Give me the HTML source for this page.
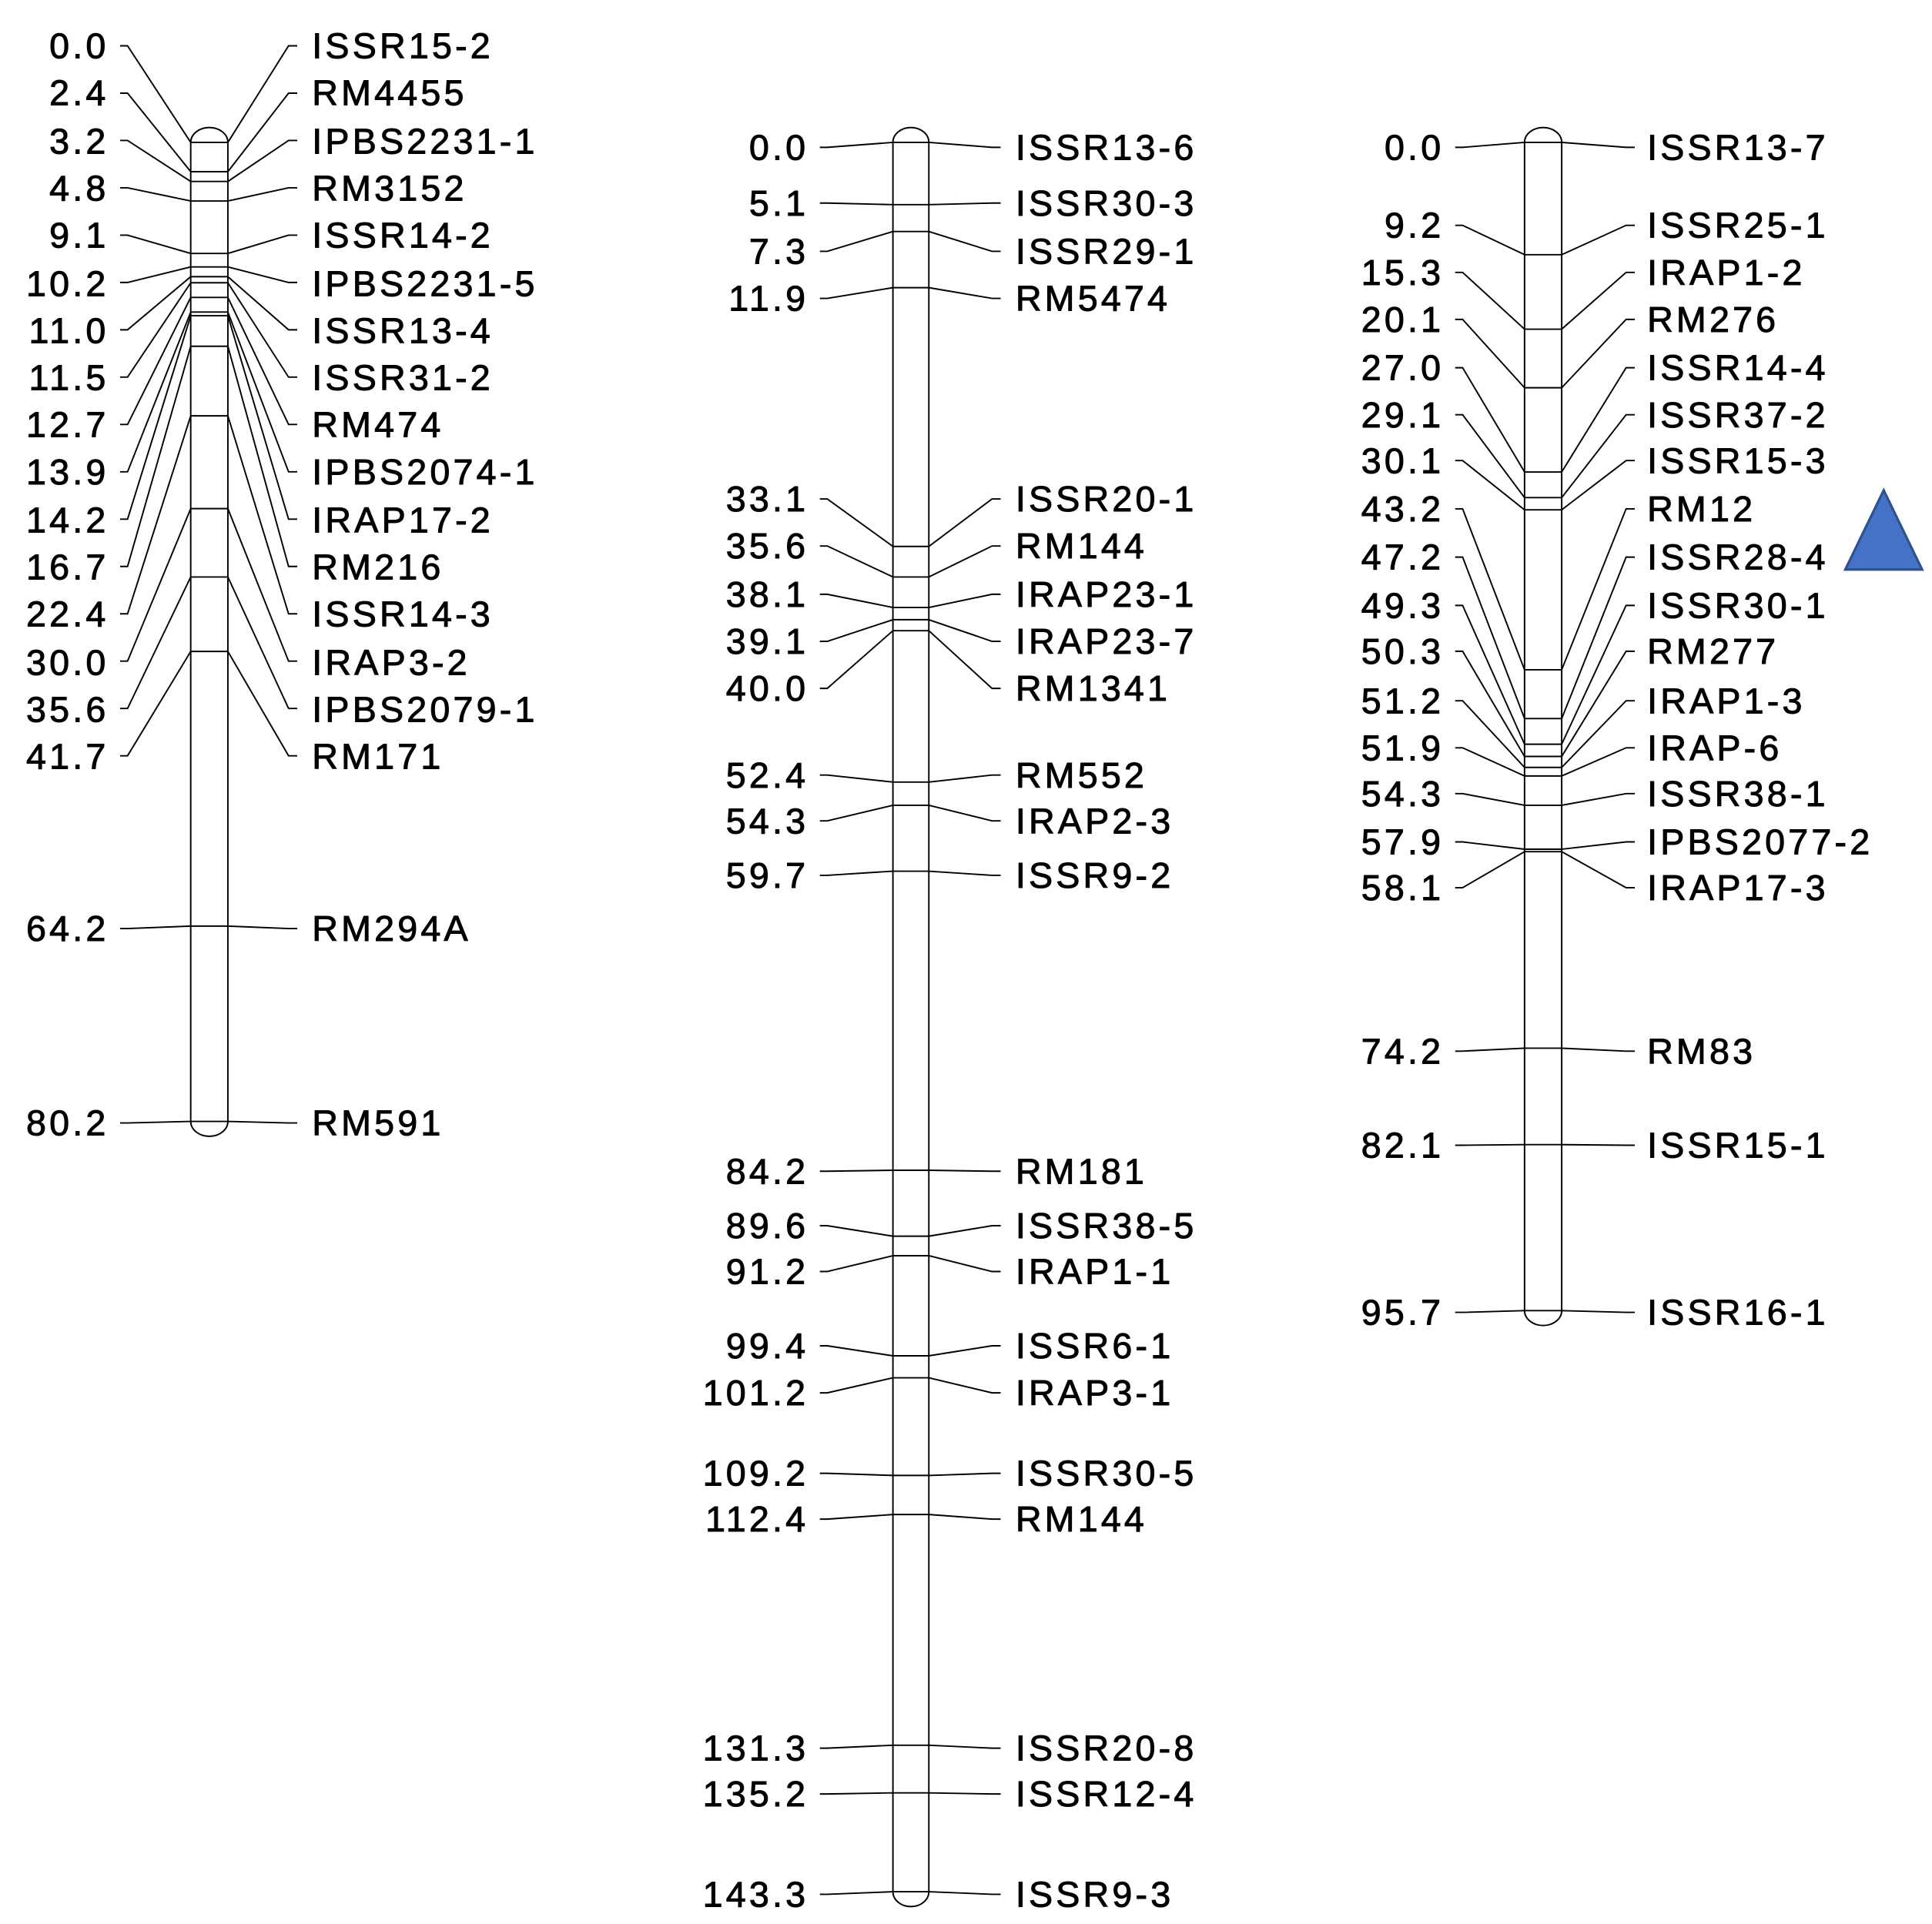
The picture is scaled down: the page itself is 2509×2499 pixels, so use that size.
<!DOCTYPE html>
<html><head><meta charset="utf-8"><style>
html,body{margin:0;padding:0;background:#fff;}
svg{display:block;}
text{font-family:"Liberation Sans",Arial,sans-serif;font-size:29px;fill:#000;letter-spacing:2.6px;stroke:#000;stroke-width:0.6px;}
.n{text-anchor:end;}
</style></head><body>
<svg id="s" width="2509" height="2499" viewBox="0 0 1560 1554" preserveAspectRatio="none" xmlns="http://www.w3.org/2000/svg">
<rect width="1560" height="1554" fill="#fff"/>
<g id="lines" stroke="#000" stroke-width="1.2" fill="none"></g>
<polygon points="1490,460 1552,460 1521,396" fill="#4472C4" stroke="#2F528F" stroke-width="2"/>
<g id="t1">
<text class="n" x="88" y="47">0.0</text><text class="n" x="88" y="85">2.4</text><text class="n" x="88" y="124">3.2</text><text class="n" x="88" y="162">4.8</text><text class="n" x="88" y="200">9.1</text><text class="n" x="88" y="239">10.2</text><text class="n" x="88" y="277">11.0</text><text class="n" x="88" y="315">11.5</text><text class="n" x="88" y="353">12.7</text><text class="n" x="88" y="391">13.9</text><text class="n" x="88" y="430">14.2</text><text class="n" x="88" y="468">16.7</text><text class="n" x="88" y="506">22.4</text><text class="n" x="88" y="545">30.0</text><text class="n" x="88" y="583">35.6</text><text class="n" x="88" y="621">41.7</text><text class="n" x="88" y="760">64.2</text><text class="n" x="88" y="917">80.2</text>
<text x="252" y="47">ISSR15-2</text><text x="252" y="85">RM4455</text><text x="252" y="124">IPBS2231-1</text><text x="252" y="162">RM3152</text><text x="252" y="200">ISSR14-2</text><text x="252" y="239">IPBS2231-5</text><text x="252" y="277">ISSR13-4</text><text x="252" y="315">ISSR31-2</text><text x="252" y="353">RM474</text><text x="252" y="391">IPBS2074-1</text><text x="252" y="430">IRAP17-2</text><text x="252" y="468">RM216</text><text x="252" y="506">ISSR14-3</text><text x="252" y="545">IRAP3-2</text><text x="252" y="583">IPBS2079-1</text><text x="252" y="621">RM171</text><text x="252" y="760">RM294A</text><text x="252" y="917">RM591</text>
</g>
<g id="t2">
<text class="n" x="653" y="129">0.0</text><text class="n" x="653" y="174">5.1</text><text class="n" x="653" y="213">7.3</text><text class="n" x="653" y="251">11.9</text><text class="n" x="653" y="413">33.1</text><text class="n" x="653" y="451">35.6</text><text class="n" x="653" y="490">38.1</text><text class="n" x="653" y="528">39.1</text><text class="n" x="653" y="566">40.0</text><text class="n" x="653" y="636">52.4</text><text class="n" x="653" y="673">54.3</text><text class="n" x="653" y="717">59.7</text><text class="n" x="653" y="956">84.2</text><text class="n" x="653" y="1000">89.6</text><text class="n" x="653" y="1037">91.2</text><text class="n" x="653" y="1097">99.4</text><text class="n" x="653" y="1135">101.2</text><text class="n" x="653" y="1200">109.2</text><text class="n" x="653" y="1237">112.4</text><text class="n" x="653" y="1422">131.3</text><text class="n" x="653" y="1459">135.2</text><text class="n" x="653" y="1540">143.3</text>
<text x="820" y="129">ISSR13-6</text><text x="820" y="174">ISSR30-3</text><text x="820" y="213">ISSR29-1</text><text x="820" y="251">RM5474</text><text x="820" y="413">ISSR20-1</text><text x="820" y="451">RM144</text><text x="820" y="490">IRAP23-1</text><text x="820" y="528">IRAP23-7</text><text x="820" y="566">RM1341</text><text x="820" y="636">RM552</text><text x="820" y="673">IRAP2-3</text><text x="820" y="717">ISSR9-2</text><text x="820" y="956">RM181</text><text x="820" y="1000">ISSR38-5</text><text x="820" y="1037">IRAP1-1</text><text x="820" y="1097">ISSR6-1</text><text x="820" y="1135">IRAP3-1</text><text x="820" y="1200">ISSR30-5</text><text x="820" y="1237">RM144</text><text x="820" y="1422">ISSR20-8</text><text x="820" y="1459">ISSR12-4</text><text x="820" y="1540">ISSR9-3</text>
</g>
<g id="t3">
<text class="n" x="1166" y="129">0.0</text><text class="n" x="1166" y="192">9.2</text><text class="n" x="1166" y="230">15.3</text><text class="n" x="1166" y="268">20.1</text><text class="n" x="1166" y="307">27.0</text><text class="n" x="1166" y="345">29.1</text><text class="n" x="1166" y="382">30.1</text><text class="n" x="1166" y="421">43.2</text><text class="n" x="1166" y="460">47.2</text><text class="n" x="1166" y="499">49.3</text><text class="n" x="1166" y="536">50.3</text><text class="n" x="1166" y="576">51.2</text><text class="n" x="1166" y="614">51.9</text><text class="n" x="1166" y="651">54.3</text><text class="n" x="1166" y="690">57.9</text><text class="n" x="1166" y="727">58.1</text><text class="n" x="1166" y="859">74.2</text><text class="n" x="1166" y="935">82.1</text><text class="n" x="1166" y="1070">95.7</text>
<text x="1330" y="129">ISSR13-7</text><text x="1330" y="192">ISSR25-1</text><text x="1330" y="230">IRAP1-2</text><text x="1330" y="268">RM276</text><text x="1330" y="307">ISSR14-4</text><text x="1330" y="345">ISSR37-2</text><text x="1330" y="382">ISSR15-3</text><text x="1330" y="421">RM12</text><text x="1330" y="460">ISSR28-4</text><text x="1330" y="499">ISSR30-1</text><text x="1330" y="536">RM277</text><text x="1330" y="576">IRAP1-3</text><text x="1330" y="614">IRAP-6</text><text x="1330" y="651">ISSR38-1</text><text x="1330" y="690">IPBS2077-2</text><text x="1330" y="727">IRAP17-3</text><text x="1330" y="859">RM83</text><text x="1330" y="935">ISSR15-1</text><text x="1330" y="1070">ISSR16-1</text>
</g>
</svg>
<script>
var g=document.getElementById('lines'),NS='http://www.w3.org/2000/svg';
function el(n,a){var e=document.createElementNS(NS,n);for(var k in a)e.setAttribute(k,a[k]);g.appendChild(e);}
function chr(x1,x2,cms,labs,lt,rt){
  var top=115,k=9.86,end=top+k*cms[cms.length-1];
  el('rect',{x:x1,y:top-12,width:x2-x1,height:end-top+24,rx:15,ry:12,fill:'#fff'});
  for(var i=0;i<cms.length;i++){
    var my=top+k*cms[i],ly=labs[i];
    el('line',{x1:x1,y1:my,x2:x2,y2:my});
    el('polyline',{points:lt+','+ly+' '+(lt+6)+','+ly+' '+x1+','+my});
    el('polyline',{points:x2+','+my+' '+(rt-7)+','+ly+' '+rt+','+ly});
  }
}
var l1=[];for(var i=0;i<16;i++)l1.push(37+38.23*i);l1.push(750,907);
chr(154,184,[0,2.4,3.2,4.8,9.1,10.2,11.0,11.5,12.7,13.9,14.2,16.7,22.4,30.0,35.6,41.7,64.2,80.2],l1,97,240);
chr(721,750,[0,5.1,7.3,11.9,33.1,35.6,38.1,39.1,40.0,52.4,54.3,59.7,84.2,89.6,91.2,99.4,101.2,109.2,112.4,131.3,135.2,143.3],
 [119,164,203,241,403,441,480,518,556,626,663,707,946,990,1027,1087,1125,1190,1227,1412,1449,1530],662,808);
chr(1231,1261,[0,9.2,15.3,20.1,27.0,29.1,30.1,43.2,47.2,49.3,50.3,51.2,51.9,54.3,57.9,58.1,74.2,82.1,95.7],
 [119,182,220,258,297,335,372,411,450,489,526,566,604,641,680,717,849,925,1060],1175,1320);
</script>
</body></html>
